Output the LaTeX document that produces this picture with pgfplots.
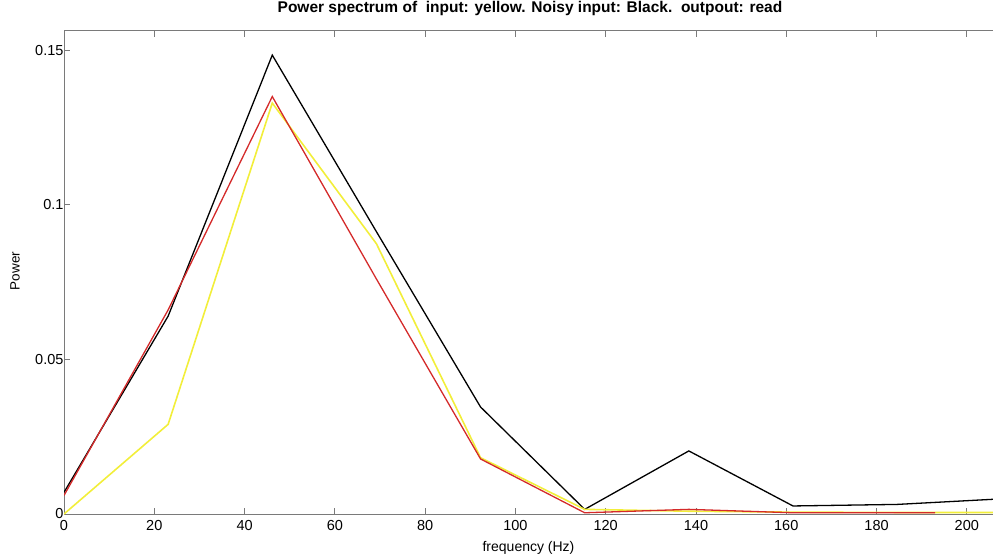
\documentclass[border=0pt]{standalone}
\usepackage{fontspec}
\setmainfont{Liberation Sans}
\usepackage{pgfplots}
\pgfplotsset{compat=1.18}
\definecolor{axgray}{HTML}{7A7A7A}
\definecolor{myred}{HTML}{D42A2A}
\definecolor{myyellow}{HTML}{F2EE3A}
\begin{document}
\begin{tikzpicture}[x=1pt,y=1pt]
\useasboundingbox (0,0) rectangle (993,558);
\begin{axis}[
  at={(64pt,44pt)}, anchor=south west,
  scale only axis, width=929pt, height=483pt,
  xmin=0, xmax=205.8, ymin=0, ymax=0.1562,
  axis x line*=box, axis y line*=left,
  xtick={0,20,...,200},
  ytick={0,0.05,0.1,0.15},
  yticklabels={0,0.05,0.1,0.15},
  tick align=inside, major tick length=6pt,
  axis line style={axgray, line width=1pt},
  tick style={axgray, line width=0.9pt},
  ticklabel style={font=\fontsize{14.5}{16}\selectfont, text=black},
  xticklabel style={yshift=-3pt},
  yticklabel style={xshift=3pt},
  /pgf/number format/assume math mode=true,
  title={\bfseries Power spectrum of\ \ input: yellow. Noisy input: Black.\ \ outpout: read},
  title style={font=\fontsize{15.5}{17}\selectfont, at={(axis description cs:0.5016,1.035)}, anchor=center},
  xlabel={frequency (Hz)},
  xlabel style={font=\fontsize{14}{16}\selectfont, at={(axis description cs:0.5,-0.0704)}, anchor=center},
  ylabel={Power},
  ylabel style={font=\fontsize{13.5}{15}\selectfont, at={(axis description cs:-0.0527,0.503)}, anchor=center},
]
\addplot[black, line width=1.3pt] coordinates {
 (0,0.007) (23.07,0.064) (46.14,0.1484) (69.21,0.0913) (92.28,0.0346)
 (115.35,0.0015) (138.42,0.0204) (161.49,0.0026) (184.56,0.0031) (207.63,0.0049)};
\addplot[myyellow, line width=1.6pt] coordinates {
 (0,0) (23.07,0.029) (46.14,0.1329) (69.21,0.0874) (92.28,0.0182)
 (115.35,0.0015) (138.42,0.0009) (161.49,0.0006) (184.56,0.0005) (207.63,0.0005)};
\addplot[myred, line width=1.3pt] coordinates {
 (0,0.006) (23.07,0.066) (46.14,0.135) (69.21,0.076) (92.28,0.0178)
 (115.35,0.0004) (138.42,0.0015) (161.49,0.0004) (184.56,0.0004) (193,0.0004)};
\end{axis}
\end{tikzpicture}
\end{document}
